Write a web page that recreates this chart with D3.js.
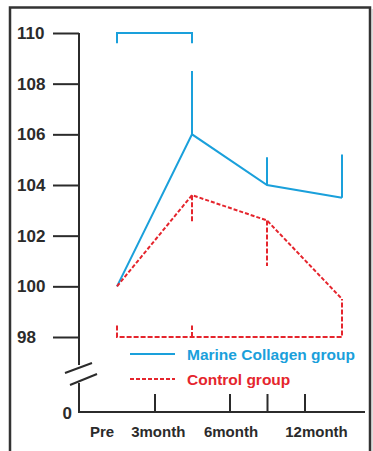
<!DOCTYPE html>
<html>
<head>
<meta charset="utf-8">
<script src="https://cdn.jsdelivr.net/npm/d3@7"></script>
<style>
  body { margin: 0; background: #fff; }
  text { font-family: "Liberation Sans", Arial, sans-serif; font-weight: bold; }
</style>
</head>
<body>
<div id="chart"></div>
<script>
const categories = ["Pre", "3month", "6month", "12month"];
const collagen = [100, 106, 104, 103.5];
const control = [100, 103.6, 102.6, 99.5];
// one-sided error bars: up for collagen, down for control
const collagenUpper = [null, 108.5, 105.1, 105.2];
const controlLower = [null, 102.5, 100.8, null];
const yTicks = [98, 100, 102, 104, 106, 108, 110];
// x tick marks and label centres, in category units (Pre = 0)
const xTickAt = [0.5, 1.5, 2, 2.5];
const xLabelAt = [-0.2, 0.55, 1.52, 2.66];

const width = 373, height = 451;
const blue = "#1aa0db", red = "#e5252d", ink = "#2b2b2b";
const axisX = 79, baseY = 412;

const svg = d3.select("#chart").append("svg")
  .attr("width", width).attr("height", height);

// outer frame
svg.append("rect")
  .attr("x", 10).attr("y", 7.5).attr("width", 360).attr("height", 460)
  .attr("fill", "none").attr("stroke", "#333").attr("stroke-width", 2.5);
svg.append("line")
  .attr("x1", 372).attr("x2", 372).attr("y1", 9).attr("y2", height)
  .attr("stroke", "#bbb").attr("stroke-width", 1);

const x = d3.scaleLinear().domain([0, 3]).range([117, 342]);
const y = d3.scaleLinear().domain([98, 110]).range([337, 33]);

// y axis
const yAxis = svg.append("g")
  .attr("transform", `translate(${axisX},0)`)
  .call(d3.axisLeft(y).tickValues(yTicks).tickSize(26).tickFormat(d3.format("d")));
yAxis.select(".domain").remove();
yAxis.selectAll(".tick line").attr("stroke", ink).attr("stroke-width", 2);
yAxis.selectAll(".tick text")
  .attr("x", -62).attr("text-anchor", "start")
  .attr("fill", ink).attr("font-size", 17);

// y axis line with break
svg.append("line")
  .attr("x1", axisX).attr("x2", axisX).attr("y1", y(110)).attr("y2", 365)
  .attr("stroke", ink).attr("stroke-width", 2);
svg.append("line")
  .attr("x1", axisX).attr("x2", axisX).attr("y1", 383).attr("y2", baseY + 1)
  .attr("stroke", ink).attr("stroke-width", 2);
[[65, 373, 92, 363], [70, 385, 97, 374]].forEach(([x1, y1, x2, y2]) => {
  svg.append("line")
    .attr("x1", x1).attr("y1", y1).attr("x2", x2).attr("y2", y2)
    .attr("stroke", ink).attr("stroke-width", 2);
});
svg.append("text")
  .attr("x", 72).attr("y", baseY + 7)
  .attr("text-anchor", "end").attr("fill", ink).attr("font-size", 17)
  .text("0");

// x axis
svg.append("line")
  .attr("x1", axisX - 1).attr("x2", 365).attr("y1", baseY).attr("y2", baseY)
  .attr("stroke", ink).attr("stroke-width", 2);
const xAxis = svg.append("g")
  .attr("transform", `translate(0,${baseY})`)
  .call(d3.axisBottom(x).tickValues(xTickAt).tickSizeInner(-18).tickSizeOuter(0).tickFormat(""));
xAxis.select(".domain").remove();
xAxis.selectAll(".tick line").attr("stroke", ink).attr("stroke-width", 2);

svg.selectAll(".xlabel").data(categories).join("text")
  .attr("class", "xlabel")
  .attr("x", (d, i) => x(xLabelAt[i]))
  .attr("y", 437)
  .attr("text-anchor", "middle")
  .attr("fill", ink).attr("font-size", 15)
  .text(d => d);

// series lines
const line = d3.line().x((d, i) => x(i)).y(d => y(d));
svg.append("path").datum(collagen)
  .attr("d", line).attr("fill", "none")
  .attr("stroke", blue).attr("stroke-width", 2);
svg.append("path").datum(control)
  .attr("d", line).attr("fill", "none")
  .attr("stroke", red).attr("stroke-width", 2).attr("stroke-dasharray", "4,2");

// error bars
collagenUpper.forEach((v, i) => {
  if (v == null) return;
  svg.append("line")
    .attr("x1", x(i)).attr("x2", x(i)).attr("y1", y(collagen[i])).attr("y2", y(v))
    .attr("stroke", blue).attr("stroke-width", 2);
});
controlLower.forEach((v, i) => {
  if (v == null) return;
  svg.append("line")
    .attr("x1", x(i)).attr("x2", x(i)).attr("y1", y(control[i])).attr("y2", y(v))
    .attr("stroke", red).attr("stroke-width", 2).attr("stroke-dasharray", "5,2");
});

// significance brackets
svg.append("path")
  .attr("d", d3.line()([[x(0), y(109.6)], [x(0), y(110)], [x(1), y(110)], [x(1), y(109.6)]]))
  .attr("fill", "none").attr("stroke", blue).attr("stroke-width", 2);
svg.append("path")
  .attr("d", d3.line()([[x(0), y(98.45)], [x(0), y(98)], [x(3), y(98)], [x(3), y(control[3])]]))
  .attr("fill", "none").attr("stroke", red).attr("stroke-width", 2).attr("stroke-dasharray", "5,2");
svg.append("line")
  .attr("x1", x(1)).attr("x2", x(1)).attr("y1", y(98)).attr("y2", y(98.45))
  .attr("stroke", red).attr("stroke-width", 2).attr("stroke-dasharray", "5,2");

// legend
const legendItems = [
  { label: "Marine Collagen group", color: blue, dash: null },
  { label: "Control group", color: red, dash: "4,2" }
];
legendItems.forEach((item, i) => {
  const ly = 354 + i * 25;
  svg.append("line")
    .attr("x1", 130).attr("x2", 175).attr("y1", ly).attr("y2", ly)
    .attr("stroke", item.color).attr("stroke-width", 2)
    .attr("stroke-dasharray", item.dash);
  svg.append("text")
    .attr("x", 187).attr("y", ly + 5.5)
    .attr("fill", item.color).attr("font-size", 15.5)
    .text(item.label);
});
</script>
</body>
</html>
